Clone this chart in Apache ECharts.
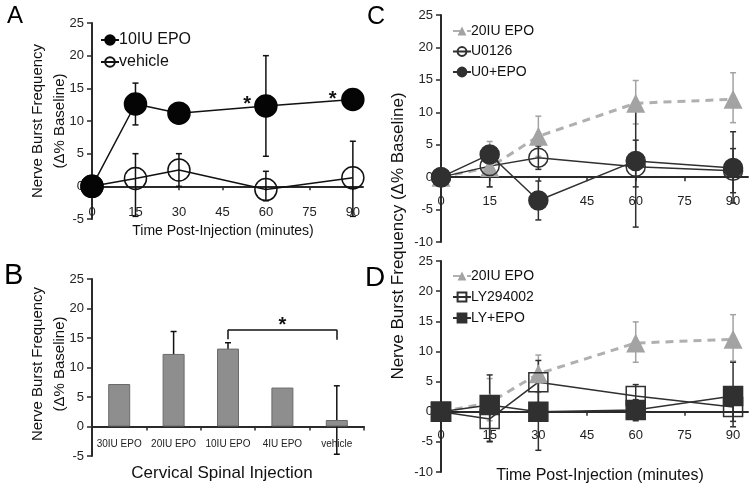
<!DOCTYPE html>
<html>
<head>
<meta charset="utf-8">
<script src="https://cdn.jsdelivr.net/npm/echarts@6/dist/echarts.min.js"></script>
<style>
  html, body { margin: 0; padding: 0; background: #fff; }
  #chart { width: 750px; height: 491px; }
</style>
</head>
<body>
<div id="chart"></div>
<script>
// time points (minutes) shared by panels A, C, D
const timePoints = [0, 15, 30, 60, 90];

// panel A
const epo10 = [0, 12.6, 11.2, 12.3, 13.3];
const epo10Err = [null, [9.4, 15.8], null, [4.6, 20.0], null];
const vehicle = [0, 1.2, 2.5, -0.5, 1.3];
const vehicleErr = [null, [-4.6, 5.0], [0, 5.0], [-2.2, 2.3], [-4.6, 6.9]];

// panel B
const doseCats = ['30IU EPO', '20IU EPO', '10IU EPO', '4IU EPO', 'vehicle'];
const doseVals = [7.2, 12.3, 13.2, 6.6, 1.1];
const doseErr = [null, [8.6, 16.1], [12.0, 14.2], null, [-4.7, 6.9]];

// panels C and D
const epo20 = [0, 1.5, 6.3, 11.4, 12.0];
const epo20Err = [null, [-1.5, 5.5], [3.2, 9.4], [8.2, 14.9], [8.4, 16.1]];
const u0126 = [0, 1.7, 3.0, 1.6, 1.0];
const u0126Err = [null, [-1.5, 4.5], [1.2, 4.8], [-1.5, 5.7], [-2.4, 4.4]];
const u0Epo = [0, 3.5, -3.6, 2.5, 1.4];
const u0EpoErr = [null, null, [-6.6, -0.6], [-7.7, 10.8], [-4.0, 7.0]];
const ly294 = [0, -1.2, 4.9, 2.6, 0.8];
const ly294Err = [null, [-5.0, 2.5], [1.5, 8.5], [0.6, 4.5], [-1.6, 2.8]];
const lyEpo = [0, 1.1, 0, 0.3, 2.6];
const lyEpoErr = [null, [-4.9, 6.1], [-6.4, 6.4], [-1.5, 2.0], [-2.5, 8.2]];

const yTicksAB = [-5, 0, 5, 10, 15, 20, 25];
const yTicksCD = [-10, -5, 0, 5, 10, 15, 20, 25];

var myChart = echarts.init(document.getElementById('chart'));

const FONT = 'Liberation Sans, Arial, sans-serif';
const AX = '#2a2a2a';

// grid boxes
const grids = [
    { left: 92, top: 23, width: 271, height: 196 },
    { left: 92, top: 279, width: 272, height: 177 },
    { left: 441, top: 15, width: 307, height: 227 },
    { left: 441, top: 261, width: 307, height: 211 }
];
const yRanges = [yTicksAB, yTicksAB, yTicksCD, yTicksCD];
// x axis sits on y = 0: shift it up from the grid bottom
function zeroOffset(i) {
    const r = yRanges[i];
    return -grids[i].height * (0 - r[0]) / (r[r.length - 1] - r[0]);
}

function pairs(vals) {
    return timePoints.map((t, i) => [t, vals[i]]);
}

// error bars drawn through the axis scales
function errSeries(axis, xs, errs, color) {
    const data = [];
    errs.forEach((e, i) => { if (e) data.push([xs[i], e[0], e[1]]); });
    return {
        type: 'custom', xAxisIndex: axis, yAxisIndex: axis, silent: true,
        data: data,
        encode: { x: 0, y: [1, 2] },
        renderItem: function (params, api) {
            const x = api.value(0);
            const lo = api.coord([x, api.value(1)]);
            const hi = api.coord([x, api.value(2)]);
            const st = { stroke: color, lineWidth: 1.5 };
            return {
                type: 'group',
                children: [
                    { type: 'line', shape: { x1: lo[0], y1: lo[1], x2: hi[0], y2: hi[1] }, style: st },
                    { type: 'line', shape: { x1: lo[0] - 3, y1: lo[1], x2: lo[0] + 3, y2: lo[1] }, style: st },
                    { type: 'line', shape: { x1: hi[0] - 3, y1: hi[1], x2: hi[0] + 3, y2: hi[1] }, style: st }
                ]
            };
        }
    };
}

function lineSeries(axis, name, vals, o) {
    return {
        type: 'line', name: name, xAxisIndex: axis, yAxisIndex: axis,
        data: pairs(vals),
        symbol: o.symbol, symbolSize: o.size,
        lineStyle: { color: o.line, width: o.width || 1.5, type: o.dash ? [8, 6] : 'solid' },
        itemStyle: { color: o.fill, borderColor: o.border, borderWidth: o.bw === undefined ? 1.5 : o.bw },
        emphasis: { disabled: true },
        z: o.z || 2
    };
}

function timeAxis(idx, max, margin) {
    return {
        type: 'value', gridIndex: idx, min: 0, max: max, interval: 15,
        offset: zeroOffset(idx),
        axisLine: { onZero: false, lineStyle: { color: AX, width: 2 } },
        axisTick: { show: true, length: 4, lineStyle: { color: AX, width: 1.5 } },
        splitLine: { show: false },
        axisLabel: {
            color: '#222', fontSize: 13, fontFamily: FONT, margin: margin,
            showMaxLabel: false,
            formatter: v => (v % 15 === 0 ? String(v) : '')
        }
    };
}

function valueAxis(idx, ticks) {
    return {
        type: 'value', gridIndex: idx, min: ticks[0], max: ticks[ticks.length - 1], interval: 5,
        axisLine: { show: true, lineStyle: { color: AX, width: 2 } },
        axisTick: { show: true, length: 5, lineStyle: { color: AX, width: 1.5 } },
        splitLine: { show: false },
        axisLabel: { color: '#222', fontSize: 13, fontFamily: FONT, margin: 8 }
    };
}

const GREY = '#a3a3a3';
const DARK = '#303030';
const STAR = { show: true, formatter: '*', fontSize: 20, fontWeight: 'bold', color: '#111', fontFamily: FONT };

const options = {
    animation: false,
    grid: grids,
    xAxis: [
        timeAxis(0, 93.5, 20),
        {
            type: 'category', gridIndex: 1, data: doseCats,
            offset: zeroOffset(1),
            axisLine: { onZero: false, lineStyle: { color: AX, width: 2 } },
            axisTick: { show: true, length: 4, lineStyle: { color: AX, width: 1.5 } },
            axisLabel: { color: '#222', fontSize: 10, fontFamily: FONT, margin: 13, interval: 0 }
        },
        timeAxis(2, 94.6, 18),
        timeAxis(3, 94.6, 17)
    ],
    yAxis: [
        valueAxis(0, yTicksAB),
        valueAxis(1, yTicksAB),
        valueAxis(2, yTicksCD),
        valueAxis(3, yTicksCD)
    ],
    legend: [
        {
            data: ['10IU EPO', 'vehicle'], orient: 'vertical', left: 95, top: 27,
            itemWidth: 18, itemHeight: 12, itemGap: 6,
            textStyle: { fontSize: 16, color: '#111', fontFamily: FONT, padding: [0, 0, 0, -5] }
        },
        {
            data: ['20IU EPO', 'U0126', 'U0+EPO'], orient: 'vertical', left: 447, top: 19,
            itemWidth: 18, itemHeight: 11, itemGap: 6.5,
            textStyle: { fontSize: 14, color: '#111', fontFamily: FONT, padding: [0, 0, 0, -5] }
        },
        {
            data: ['20IU EPO', 'LY294002', 'LY+EPO'], orient: 'vertical', left: 447, top: 264,
            itemWidth: 18, itemHeight: 11, itemGap: 7,
            textStyle: { fontSize: 14, color: '#111', fontFamily: FONT, padding: [0, 0, 0, -5] }
        }
    ],
    series: [
        // A
        errSeries(0, timePoints, vehicleErr, '#111'),
        errSeries(0, timePoints, epo10Err, '#111'),
        lineSeries(0, 'vehicle', vehicle, { symbol: 'circle', size: 22, line: '#111', fill: 'rgba(255,255,255,0)', border: '#111' }),
        Object.assign(
            lineSeries(0, '10IU EPO', epo10, { symbol: 'circle', size: 22, line: '#111', fill: '#050505', border: '#050505', z: 3 }),
            {
                markPoint: {
                    symbol: 'circle', symbolSize: 0, silent: true,
                    label: Object.assign({ offset: [0, 5] }, STAR),
                    data: [{ coord: [53.5, 13.3] }, { coord: [83, 14.1] }]
                }
            }
        ),
        // B
        {
            type: 'bar', xAxisIndex: 1, yAxisIndex: 1, data: doseVals, barWidth: 22,
            itemStyle: { color: '#8e8e8e', borderColor: '#6a6a6a', borderWidth: 1 },
            emphasis: { disabled: true },
            markLine: {
                symbol: 'none', silent: true,
                lineStyle: { color: '#111', width: 1.5, type: 'solid' },
                label: { show: false },
                data: [
                    [{ coord: ['10IU EPO', 16.4], label: Object.assign({ position: 'middle', distance: -6 }, STAR) },
                     { coord: ['vehicle', 16.4] }],
                    [{ coord: ['10IU EPO', 16.4] }, { coord: ['10IU EPO', 14.8] }],
                    [{ coord: ['vehicle', 16.4] }, { coord: ['vehicle', 14.7] }]
                ]
            }
        },
        errSeries(1, [0, 1, 2, 3, 4], doseErr, '#111'),
        // C
        errSeries(2, timePoints, epo20Err, GREY),
        lineSeries(2, '20IU EPO', epo20, { symbol: 'triangle', size: 19, line: '#b0b0b0', width: 3, dash: true, fill: GREY, border: GREY, bw: 0 }),
        errSeries(2, timePoints, u0126Err, DARK),
        lineSeries(2, 'U0126', u0126, { symbol: 'circle', size: 19, line: DARK, fill: 'rgba(255,255,255,0)', border: DARK }),
        errSeries(2, timePoints, u0EpoErr, DARK),
        lineSeries(2, 'U0+EPO', u0Epo, { symbol: 'circle', size: 19, line: DARK, fill: DARK, border: DARK, z: 3 }),
        // D
        errSeries(3, timePoints, epo20Err, GREY),
        lineSeries(3, '20IU EPO', epo20, { symbol: 'triangle', size: 19, line: '#b0b0b0', width: 3, dash: true, fill: GREY, border: GREY, bw: 0 }),
        errSeries(3, timePoints, ly294Err, DARK),
        lineSeries(3, 'LY294002', ly294, { symbol: 'rect', size: 19, line: DARK, fill: 'rgba(255,255,255,0)', border: DARK }),
        errSeries(3, timePoints, lyEpoErr, DARK),
        lineSeries(3, 'LY+EPO', lyEpo, { symbol: 'rect', size: 19, line: DARK, fill: DARK, border: DARK, z: 3 })
    ],
    graphic: [
        { type: 'text', left: 7, top: 4, style: { text: 'A', fontSize: 24, fill: '#000', fontFamily: FONT } },
        { type: 'text', left: 4, top: 261, style: { text: 'B', fontSize: 29, fill: '#000', fontFamily: FONT } },
        { type: 'text', left: 367, top: 5, style: { text: 'C', fontSize: 25, fill: '#000', fontFamily: FONT } },
        { type: 'text', left: 365, top: 264, style: { text: 'D', fontSize: 28, fill: '#000', fontFamily: FONT } },
        // y axis titles
        { type: 'text', x: 49, y: 121, rotation: Math.PI / 2,
          style: { text: 'Nerve Burst Frequency\n(Δ% Baseline)', fontSize: 15, lineHeight: 22, fill: '#111', fontFamily: FONT, align: 'center', verticalAlign: 'middle' } },
        { type: 'text', x: 49, y: 364, rotation: Math.PI / 2,
          style: { text: 'Nerve Burst Frequency\n(Δ% Baseline)', fontSize: 15, lineHeight: 22, fill: '#111', fontFamily: FONT, align: 'center', verticalAlign: 'middle' } },
        { type: 'text', x: 398, y: 236, rotation: Math.PI / 2,
          style: { text: 'Nerve Burst Frequency (Δ% Baseline)', fontSize: 17, fill: '#111', fontFamily: FONT, align: 'center', verticalAlign: 'middle' } },
        // x axis titles
        { type: 'text', x: 223, y: 231,
          style: { text: 'Time Post-Injection (minutes)', fontSize: 14, fill: '#111', fontFamily: FONT, align: 'center', verticalAlign: 'middle' } },
        { type: 'text', x: 222, y: 473,
          style: { text: 'Cervical Spinal Injection', fontSize: 17, fill: '#111', fontFamily: FONT, align: 'center', verticalAlign: 'middle' } },
        { type: 'text', x: 600, y: 476,
          style: { text: 'Time Post-Injection (minutes)', fontSize: 16, fill: '#111', fontFamily: FONT, align: 'center', verticalAlign: 'middle' } }
    ]
};
myChart.setOption(options);
</script>
</body>
</html>
